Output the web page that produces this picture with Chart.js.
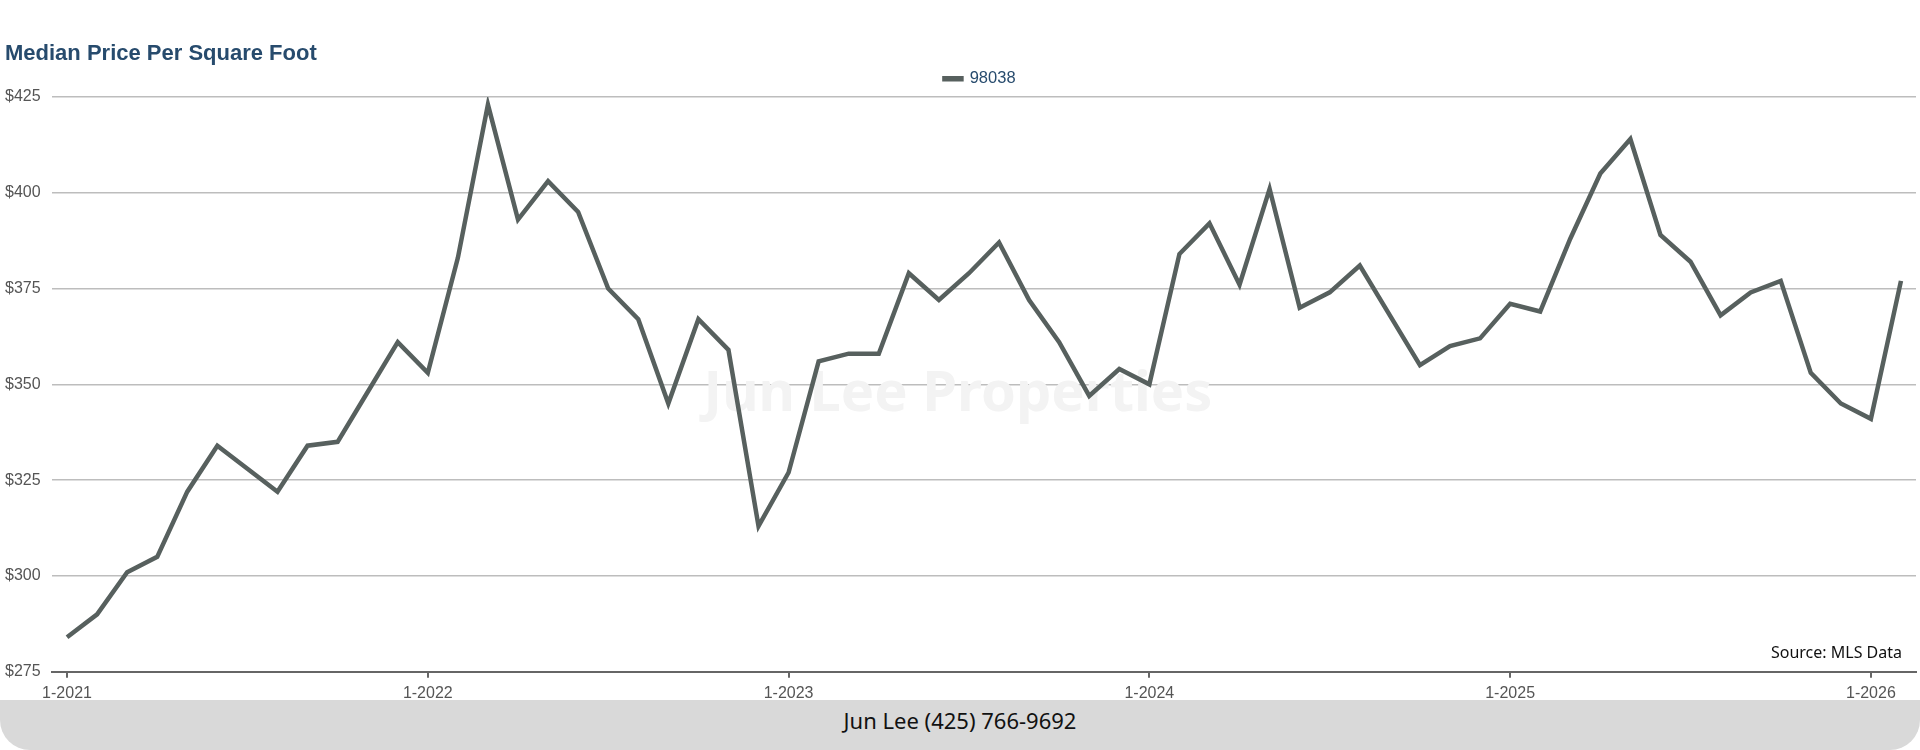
<!DOCTYPE html>
<html lang="en">
<head>
  <meta charset="UTF-8">
  <title>Median Price Per Square Foot</title>
  <script src="https://cdn.jsdelivr.net/npm/chart.js"></script>
  <style>
    body {
      margin: 0;
      background: #fff;
      width: 1920px;
      height: 750px;
      overflow: hidden;
    }
    .chart-box {
      position: relative;
      width: 1920px;
      height: 709px;
    }
    .footer {
      position: relative;
      margin-top: -9px;
      height: 50px;
      background: #d9d9d9;
      border-radius: 0 0 30px 30px;
      text-align: center;
      font-family: 'Noto Sans', 'Open Sans', sans-serif;
      font-size: 22px;
      line-height: 24px;
      color: #111;
    }
    .footer span {
      position: relative;
      top: 8px;
    }
  </style>
</head>
<body>
  <div class="chart-box"><canvas id="chart"></canvas></div>
  <div class="footer"><span>Jun Lee (425) 766-9692</span></div>
  <script>
    // months Jan 2021 .. Feb 2026
    const months = [
      '1-2021','2-2021','3-2021','4-2021','5-2021','6-2021','7-2021','8-2021','9-2021','10-2021','11-2021','12-2021',
      '1-2022','2-2022','3-2022','4-2022','5-2022','6-2022','7-2022','8-2022','9-2022','10-2022','11-2022','12-2022',
      '1-2023','2-2023','3-2023','4-2023','5-2023','6-2023','7-2023','8-2023','9-2023','10-2023','11-2023','12-2023',
      '1-2024','2-2024','3-2024','4-2024','5-2024','6-2024','7-2024','8-2024','9-2024','10-2024','11-2024','12-2024',
      '1-2025','2-2025','3-2025','4-2025','5-2025','6-2025','7-2025','8-2025','9-2025','10-2025','11-2025','12-2025',
      '1-2026','2-2026'
    ];
    const seriesName = '98038';
    const pricePerSqft = [
      284, 290, 301, 305, 322, 334, 328, 322, 334, 335, 348, 361,
      353, 383, 423, 393, 403, 395, 375, 367, 345, 367, 359, 313,
      327, 356, 358, 358, 379, 372, 379, 387, 372, 361, 347, 354,
      350, 384, 392, 376, 401, 370, 374, 381, 368, 355, 360, 362,
      371, 369, 388, 405, 414, 389, 382, 368, 374, 377, 353, 345,
      341, 377
    ];
    const yTicks = [275, 300, 325, 350, 375, 400, 425];
    const shownMonthLabels = ['1-2021', '1-2022', '1-2023', '1-2024', '1-2025', '1-2026'];

    const lineColor = '#57605e';
    const navy = '#274b6d';
    const arial = '"Liberation Sans", Arial, sans-serif';

    // watermark, source note, small legend nudge
    const extras = {
      id: 'extras',
      afterLayout(chart) {
        chart.legend.left -= 4;
        chart.legend.right -= 4;
      },
      beforeDatasetsDraw(chart) {
        const { ctx } = chart;
        ctx.save();
        ctx.font = 'bold 56px "Noto Sans", sans-serif';
        ctx.fillStyle = '#f3f3f3';
        ctx.textAlign = 'center';
        ctx.textBaseline = 'middle';
        ctx.fillText('Jun Lee Properties', 958, 395);
        ctx.restore();
      },
      afterDraw(chart) {
        const { ctx, chartArea } = chart;
        ctx.save();
        ctx.font = '16px "Noto Sans", sans-serif';
        ctx.fillStyle = '#111';
        ctx.textAlign = 'right';
        ctx.textBaseline = 'middle';
        ctx.fillText('Source: MLS Data', chartArea.right - 14, chartArea.bottom - 18);
        ctx.restore();
      }
    };

    new Chart(document.getElementById('chart'), {
      type: 'line',
      data: {
        labels: months,
        datasets: [{
          label: seriesName,
          data: pricePerSqft,
          borderColor: lineColor,
          backgroundColor: lineColor,
          borderWidth: 4.5,
          pointRadius: 0,
          tension: 0
        }]
      },
      options: {
        responsive: true,
        maintainAspectRatio: false,
        animation: false,
        layout: { padding: { left: 5, right: 4, top: 0, bottom: 0 } },
        plugins: {
          title: {
            display: true,
            text: 'Median Price Per Square Foot',
            align: 'start',
            color: navy,
            font: { family: arial, size: 22, weight: 'bold' },
            padding: { top: 41, bottom: 0 }
          },
          legend: {
            display: true,
            position: 'top',
            fullSize: false,
            labels: {
              boxWidth: 17,
              boxHeight: 1,
              padding: 3,
              color: navy,
              font: { family: arial, size: 16.5 }
            }
          },
          tooltip: { enabled: false }
        },
        scales: {
          x: {
            type: 'category',
            offset: true,
            afterFit: axis => { axis.paddingLeft = 0; axis.paddingRight = 0; },
            border: { display: true, color: '#666', width: 2 },
            grid: {
              drawOnChartArea: false,
              drawTicks: true,
              tickLength: 6,
              lineWidth: 2,
              color: ctx => (ctx.tick && shownMonthLabels.includes(months[ctx.tick.value])) ? '#666' : 'rgba(0,0,0,0)'
            },
            ticks: {
              autoSkip: false,
              maxRotation: 0,
              padding: 6,
              color: '#555',
              font: { family: arial, size: 16 },
              callback: function (value) {
                const lbl = months[value];
                return shownMonthLabels.includes(lbl) ? lbl : '';
              }
            }
          },
          y: {
            min: yTicks[0],
            max: yTicks[yTicks.length - 1],
            afterBuildTicks: axis => { axis.ticks = yTicks.map(v => ({ value: v })); },
            afterFit: axis => { axis.width = 47; },
            border: { display: false },
            grid: { color: '#bdbdbd', lineWidth: 1.5, drawTicks: false },
            ticks: {
              padding: 10,
              crossAlign: 'far',
              color: '#555',
              font: { family: arial, size: 16 },
              callback: v => '$' + v
            }
          }
        }
      },
      plugins: [extras]
    });
  </script>
</body>
</html>
